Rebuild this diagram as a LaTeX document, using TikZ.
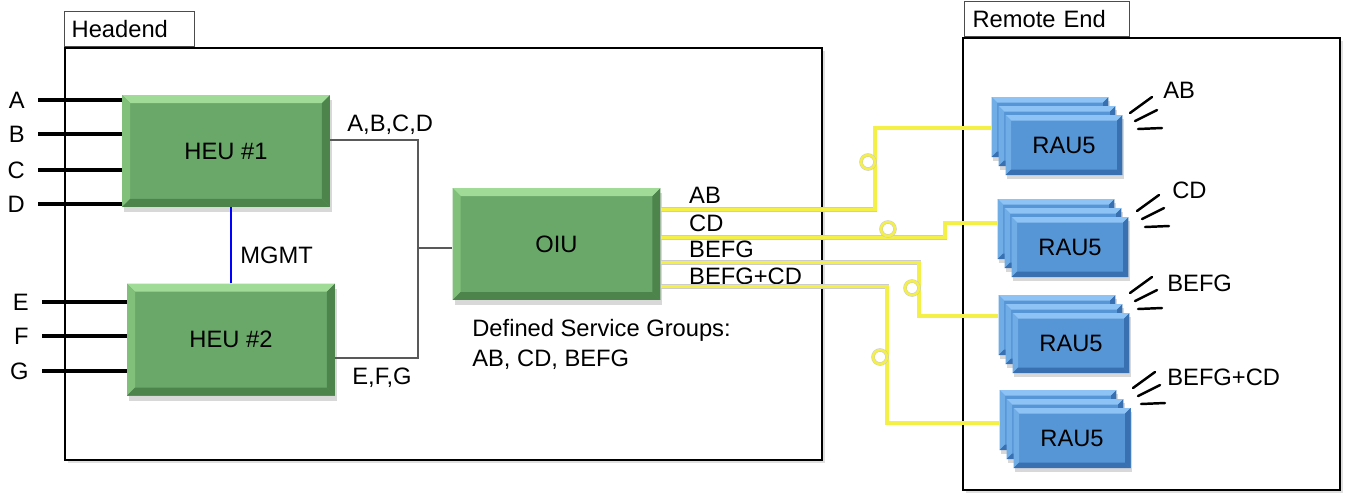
\documentclass[tikz,border=0pt]{standalone}
\usepackage{fontspec}
\setmainfont{Liberation Sans}
\usetikzlibrary{positioning, calc, shadows}

\definecolor{heugreen}{RGB}{106,168,106}
\definecolor{heulight}{RGB}{160,220,152}
\definecolor{heuside}{RGB}{128,192,122}
\definecolor{heudark}{RGB}{76,132,76}
\definecolor{raublue}{RGB}{86,150,214}
\definecolor{raulight}{RGB}{142,196,245}
\definecolor{rauside}{RGB}{112,172,230}
\definecolor{raudark}{RGB}{56,112,178}
\definecolor{fibyellow}{RGB}{244,240,72}

% bevel faces: light, side, dark, size
\newcommand{\bevels}[4]{%
  \path (path picture bounding box.north west) coordinate (bnw)
        (path picture bounding box.north east) coordinate (bne)
        (path picture bounding box.south west) coordinate (bsw)
        (path picture bounding box.south east) coordinate (bse);
  \fill[#1] (bnw) -- (bne) -- ([shift={(-#4,-#4)}]bne) -- ([shift={(#4,-#4)}]bnw) -- cycle;
  \fill[#2] (bnw) -- (bsw) -- ([shift={(#4,#4)}]bsw) -- ([shift={(#4,-#4)}]bnw) -- cycle;
  \fill[#3] (bne) -- (bse) -- ([shift={(-#4,#4)}]bse) -- ([shift={(-#4,-#4)}]bne) -- cycle;
  \fill[#3] (bsw) -- (bse) -- ([shift={(-#4,#4)}]bse) -- ([shift={(#4,#4)}]bsw) -- cycle;
}

\tikzset{
  heu/.style={fill=heugreen, minimum width=4.16cm, minimum height=2.24cm, inner sep=0pt,
    path picture={\bevels{heulight}{heuside}{heudark}{0.16cm}},
    drop shadow={shadow xshift=0.04cm, shadow yshift=-0.1cm, opacity=0.3}},
  rau/.style={fill=raublue, minimum width=2.34cm, minimum height=1.2cm, inner sep=0pt,
    path picture={\bevels{raulight}{rauside}{raudark}{0.11cm}},
    drop shadow={shadow xshift=0.03cm, shadow yshift=-0.08cm, opacity=0.3}},
  area/.style={draw, line width=1.3pt, fill=white,
    drop shadow={shadow xshift=0.06cm, shadow yshift=-0.06cm, opacity=0.25}},
  tab/.style={draw=black!70, line width=0.8pt, fill=white, anchor=south west, align=left,
    inner xsep=0.14cm, inner ysep=0pt, minimum height=0.7cm},
  inlbl/.style={anchor=east, inner xsep=0.26cm, inner ysep=0pt},
  lbl/.style={anchor=west, inner sep=0pt},
  feed/.style={line width=2.2pt},
  trunk/.style={draw=black!65, line width=1pt},
  mgmt/.style={draw=blue, line width=1.2pt},
  fiber/.style={draw=black!20, line width=0.35pt, double=fibyellow, double distance=1.9pt},
  coil/.style={circle, draw=black!20, line width=0.3pt, double=fibyellow, double distance=1.4pt,
    minimum size=0.28cm, inner sep=0pt},
  wave/.style={line width=1.4pt, line cap=round},
}

\begin{document}
\begin{tikzpicture}[x=0.02cm, y=-0.02cm, font=\fontsize{13.5}{16}\selectfont]

\useasboundingbox (0,0) rectangle (1346,495);

% the two sites
\node[area, minimum width=15.14cm, minimum height=8.24cm] (headend) at (443.5,254) {};
\node[tab, text width=2.32cm] (headtab) at (headend.north west) {Headend};
\node[area, minimum width=7.54cm, minimum height=9.04cm] (remote) at (1151.5,264) {};
\node[tab, text width=2.98cm, inner xsep=0.16cm] (remotetab) at ([xshift=0.04cm]remote.north west) {Remote End};

% headend units
\node[heu] (heu1) at (226,151) {HEU \#1};
\node[heu, below=1.52cm of heu1, xshift=0.1cm] (heu2) {HEU \#2};
\node[heu] (oiu) at (556.5,244) {OIU};

\foreach \n/\y in {A/100, B/134, C/170, D/204}{
  \node[inlbl] (in\n) at (38,\y) {\n};
  \draw[feed] (in\n.east) -- (in\n.east -| heu1.west);
}
\foreach \n/\y in {E/302, F/336, G/371}{
  \node[inlbl] (in\n) at (42,\y) {\n};
  \draw[feed] (in\n.east) -- (in\n.east -| heu2.west);
}

\draw[mgmt] (heu2.north) -- (heu2.north |- heu1.south);
\node[lbl] (mgmtlbl) at (240,255) {MGMT};

\coordinate (jn) at (418,248);
\draw[trunk] ([yshift=0.22cm]heu1.east) -| (jn) |- ([yshift=-0.36cm]heu2.east);
\draw[trunk] (jn) -- (jn -| oiu.west);
\node[lbl] (abcd) at (347,125) {A,B,C,D};
\node[lbl] (efg) at (352,378) {E,F,G};

\node[anchor=north west, align=left, inner sep=0pt] (sgroups) at (472,319)
  {Defined Service Groups:\\[1pt]AB, CD, BEFG};

% remote units
\foreach \i/\fx/\fy/\ax/\ay/\lx/\ly/\txt in
  {1/1064/145/1130/113/1163/90/AB, 2/1070/247/1137/211/1172/190/CD,
   3/1071/343/1130/293/1167/283/BEFG, 4/1072/438/1133/388/1167/377/BEFG+CD}{
  \node[rau] (rau\i c) at (\fx-14,\fy-18) {};
  \node[rau] (rau\i b) at (\fx-7,\fy-9) {};
  \node[rau] (rau\i) at (\fx,\fy) {RAU5};
  \draw[wave] (\ax,\ay) -- +(22,-16) (\ax+5,\ay+8) -- +(22,-11) (\ax+8,\ay+16) -- +(24,-1);
  \node[lbl] (cov\i) at (\lx,\ly) {\txt};
}

% fibers
\foreach \i/\dy/\dl/\txt in {1/22/-14/AB, 2/50/-14/CD, 3/75/-13/BEFG, 4/99/-10/BEFG+CD}{
  \coordinate (o\i) at ($(oiu.north east)+(0,\dy)$);
  \node[lbl] (sg\i) at ($(o\i)+(28,\dl)$) {\txt};
}
\coordinate (k1) at (875,128);
\coordinate (k2) at (945,223);
\coordinate (k3) at (919,316);
\coordinate (k4) at (887,423);
\foreach \i in {1,...,4}
  \draw[fiber] (o\i) -| (k\i) -- (k\i -| rau\i c.west);

\node[coil] (c1) at (868,162) {};
\node[coil] (c2) at (888,229) {};
\node[coil] (c3) at (912,288) {};
\node[coil] (c4) at (880,357) {};

\end{tikzpicture}
\end{document}
